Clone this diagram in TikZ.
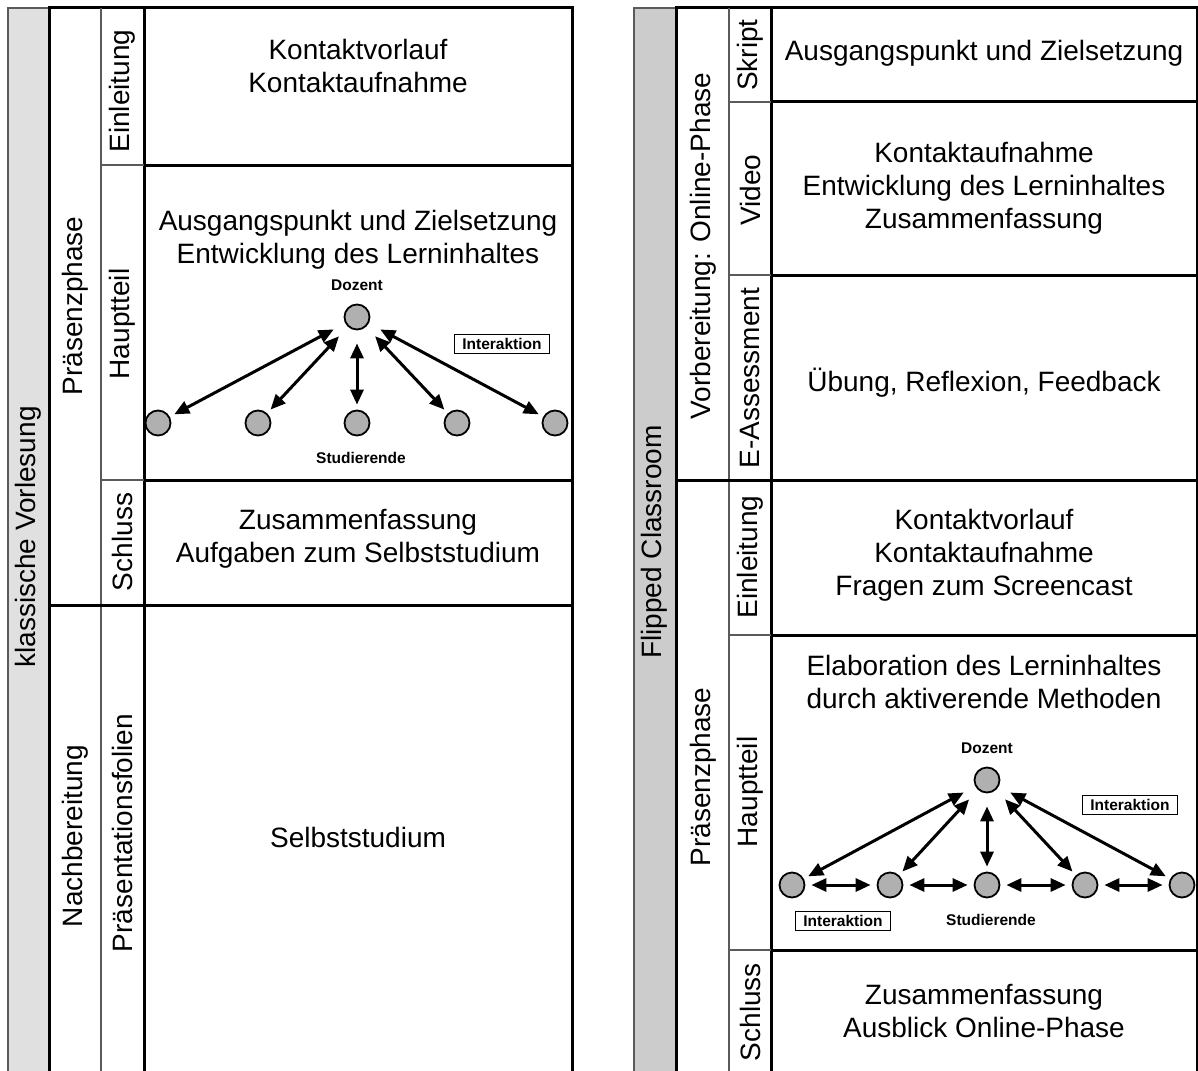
\documentclass[tikz,border=0pt]{standalone}
\usepackage{fontspec}
\setmainfont{Liberation Sans}
\usetikzlibrary{arrows.meta, positioning}
\definecolor{paleA}{HTML}{E0E0E0}
\definecolor{paleB}{HTML}{CCCCCC}
\definecolor{rulegray}{HTML}{5A5A5A}
\definecolor{dotgray}{HTML}{B0B0B0}

\begin{document}
\begin{tikzpicture}[x=1pt, y=-1pt,
  heavy/.style={line width=3pt},
  graycut/.style={line width=2pt, draw=rulegray},
  txt/.style={font=\fontsize{28}{33}\selectfont, align=center},
  vtxt/.style={font=\fontsize{28}{33}\selectfont, rotate=90},
  person/.style={draw, circle, fill=dotgray, line width=1.8pt, minimum size=25pt, inner sep=0pt},
  lbl/.style={font=\fontsize{15.5}{18}\selectfont\bfseries},
  tag/.style={draw, line width=1.2pt, font=\fontsize{15.5}{18}\selectfont\bfseries, inner xsep=8pt, inner ysep=4pt},
  link/.style={line width=3pt, {Triangle[length=15pt,width=13pt]}-{Triangle[length=15pt,width=13pt]}, shorten <=13pt, shorten >=5pt},
  side/.style={line width=3pt, {Triangle[length=15pt,width=13pt]}-{Triangle[length=15pt,width=13pt]}, shorten <=6pt, shorten >=6pt}]

  \clip (0,0) rectangle (1198,1070);
  \fill[white] (0,0) rectangle (1198,1070);

  % klassische Vorlesung
  \fill[paleA] (8,8) rectangle (49,1080);
  \draw[graycut] (8,1080) -- (8,8) -- (49,8);
  \draw[heavy] (49,1080) -- (49,8) -- (572,8) -- (572,1080);
  \draw[graycut] (101,8) -- (101,1080);
  \draw[heavy] (144,8) -- (144,1080);
  \draw[graycut] (101,165) -- (144,165) (101,480) -- (144,480);
  \draw[heavy] (144,165) -- (572,165) (144,480) -- (572,480) (49,605) -- (572,605);

  \node[vtxt] (lname) at (28,537) {klassische Vorlesung};
  \node[vtxt] (lpraes) at (75,306) {Präsenzphase};
  \node[vtxt] (lnach) at (75,836) {Nachbereitung};
  \node[vtxt] (lein) at (122,91) {Einleitung};
  \node[vtxt] (lhaupt) at (122,324) {Hauptteil};
  \node[vtxt] (lschluss) at (122,542) {Schluss};
  \node[vtxt] (lfolien) at (122,833) {Präsentationsfolien};

  \node[txt] (leintxt) at (358,66) {Kontaktvorlauf\\Kontaktaufnahme};
  \node[txt] (lhaupttxt) at (358,240) {Ausgangspunkt und Zielsetzung\\Entwicklung des Lerninhaltes};
  \node[txt] (lschlusstxt) at (358,539) {Zusammenfassung\\Aufgaben zum Selbststudium};
  \node[txt] (lfolientxt) at (358,837) {Selbststudium};

  \node[person] (ldoz) at (357,317) {};
  \node[person] (ls1) at (158,423) {};
  \node[person] (ls2) at (258,423) {};
  \node[person] (ls3) at (357,423) {};
  \node[person] (ls4) at (457,423) {};
  \node[person] (ls5) at (555,423) {};
  \node[lbl, above=9pt of ldoz] (ldozlbl) {Dozent};
  \node[lbl, below=12pt of ls3, xshift=4pt] (lstudlbl) {Studierende};
  \node[tag] (ltag) at (502,344) {Interaktion};
  \draw[link] (ldoz) -- (ls1);
  \draw[link] (ldoz) -- (ls2);
  \draw[link] (ldoz) -- (ls3);
  \draw[link] (ldoz) -- (ls4);
  \draw[link] (ldoz) -- (ls5);

  % Flipped Classroom
  \fill[paleB] (634,8) rectangle (676,1080);
  \draw[graycut] (634,1080) -- (634,8) -- (676,8);
  \draw[heavy] (676,1080) -- (676,8) -- (1197,8) -- (1197,1080);
  \draw[graycut] (729,8) -- (729,1080);
  \draw[heavy] (771,8) -- (771,1080);
  \draw[graycut] (729,102) -- (771,102) (729,275) -- (771,275) (729,635) -- (771,635) (729,950) -- (771,950);
  \draw[heavy] (771,102) -- (1197,102) (771,275) -- (1197,275) (676,480) -- (1197,480)
    (771,635) -- (1197,635) (771,950) -- (1197,950);

  \node[vtxt] (rname) at (654,542) {Flipped Classroom};
  \node[vtxt] (rvor) at (703,246) {Vorbereitung: Online-Phase};
  \node[vtxt] (rpraes) at (703,777) {Präsenzphase};
  \node[vtxt] (rskript) at (750,55) {Skript};
  \node[vtxt] (rvideo) at (750,190) {Video};
  \node[vtxt] (rassess) at (750,378) {E-Assessment};
  \node[vtxt] (rein) at (750,557) {Einleitung};
  \node[vtxt] (rhaupt) at (750,792) {Hauptteil};
  \node[vtxt] (rschluss) at (750,1012) {Schluss};

  \node[txt] (rskripttxt) at (984,53) {Ausgangspunkt und Zielsetzung};
  \node[txt] (rvideotxt) at (984,188) {Kontaktaufnahme\\Entwicklung des Lerninhaltes\\Zusammenfassung};
  \node[txt] (rassesstxt) at (984,383) {Übung, Reflexion, Feedback};
  \node[txt] (reintxt) at (984,555) {Kontaktvorlauf\\Kontaktaufnahme\\Fragen zum Screencast};
  \node[txt] (rhaupttxt) at (984,682) {Elaboration des Lerninhaltes\\durch aktiverende Methoden};
  \node[txt] (rschlusstxt) at (984,1011) {Zusammenfassung\\Ausblick Online-Phase};

  \node[person] (rdoz) at (987,780) {};
  \node[person] (rs1) at (792,885) {};
  \node[person] (rs2) at (890,885) {};
  \node[person] (rs3) at (987,885) {};
  \node[person] (rs4) at (1085,885) {};
  \node[person] (rs5) at (1182,885) {};
  \node[lbl, above=9pt of rdoz] (rdozlbl) {Dozent};
  \node[lbl, below=12pt of rs3, xshift=4pt] (rstudlbl) {Studierende};
  \node[tag] (rtagtop) at (1130,805) {Interaktion};
  \node[tag] (rtagbot) at (843,921) {Interaktion};
  \draw[link] (rdoz) -- (rs1);
  \draw[link] (rdoz) -- (rs2);
  \draw[link] (rdoz) -- (rs3);
  \draw[link] (rdoz) -- (rs4);
  \draw[link] (rdoz) -- (rs5);
  \draw[side] (rs1) -- (rs2);
  \draw[side] (rs2) -- (rs3);
  \draw[side] (rs3) -- (rs4);
  \draw[side] (rs4) -- (rs5);
\end{tikzpicture}
\end{document}
